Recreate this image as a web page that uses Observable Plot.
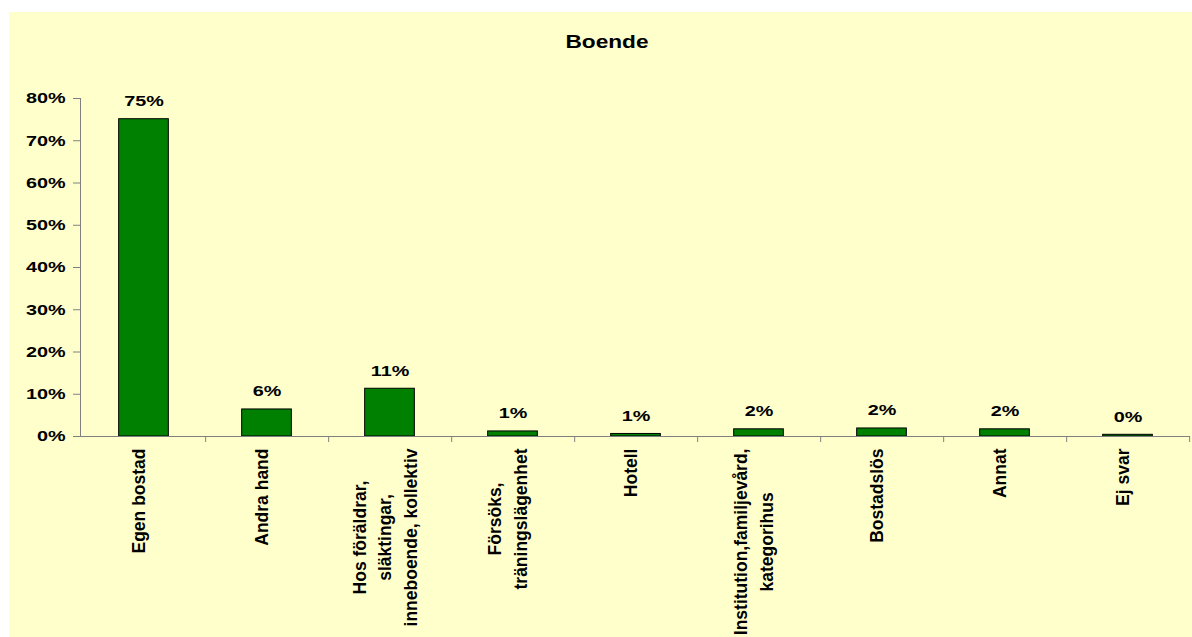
<!DOCTYPE html>
<html>
<head>
<meta charset="utf-8">
<script src="https://cdn.jsdelivr.net/npm/d3@7"></script>
<script src="https://cdn.jsdelivr.net/npm/@observablehq/plot@0.6"></script>
<style>
  html, body { margin: 0; padding: 0; background: #ffffff; }
  #bg { position: absolute; left: 9px; top: 12px; width: 1183px; height: 625px; background: #FFFFCC; }
  #title { position: absolute; left: 0; top: 33px; width: 1214px; text-align: center;
           font: bold 18px "Liberation Sans", Arial, sans-serif; line-height: 18px; color: #000;
           transform: scaleX(1.26); transform-origin: 607px 0; }
  #chart { position: absolute; left: 0; top: 0; }
</style>
</head>
<body>
<div id="bg"></div>
<div id="chart"></div>
<div id="title">Boende</div>
<script>
const title = "Boende";
const categories = [
  "Egen bostad",
  "Andra hand",
  "Hos föräldrar,\nsläktingar,\ninneboende, kollektiv",
  "Försöks,\nträningslägenhet",
  "Hotell",
  "Institution,familjevård,\nkategorihus",
  "Bostadslös",
  "Annat",
  "Ej svar"
];
const values = [75.1, 6.4, 11.3, 1.2, 0.6, 1.7, 1.9, 1.7, 0.4];
const yTicks = [0, 10, 20, 30, 40, 50, 60, 70, 80];

const data = categories.map((c, i) => ({category: c, value: values[i]}));

const W = 1192, H = 637;
const mL = 80, mR = 2, mT = 98, mB = 201;
const bw = (W - mL - mR) / categories.length;
const barW = 50;
const inset = (bw - barW) / 2;
const STRETCH = 1.32;
const FONT = "Liberation Sans, Arial, sans-serif";

const plot = Plot.plot({
  width: W,
  height: H,
  marginLeft: mL,
  marginRight: mR,
  marginTop: mT,
  marginBottom: mB,
  style: {background: "transparent", overflow: "visible"},
  x: {domain: categories, padding: 0, label: null},
  y: {domain: [0, 80], label: null},
  marks: [
    Plot.barY(data, {x: "category", y: "value", fill: "#008000", stroke: "#000", strokeWidth: 1,
      insetLeft: inset, insetRight: inset}),
    Plot.ruleY([0], {stroke: "#808080", strokeWidth: 1}),
    Plot.frame({anchor: "left", stroke: "#808080", strokeWidth: 1}),
    Plot.ruleX(categories, {x: d => d, y1: 0, y2: 0, dx: bw / 2, insetBottom: -6, stroke: "#808080", strokeWidth: 1}),
    Plot.axisY({ticks: yTicks, tickFormat: d => d + "%", tickSize: 7, tickPadding: 8,
      stroke: "#808080", fill: "#000", fontSize: 15, fontWeight: "bold", fontFamily: FONT}),
    Plot.axisX({tickSize: 0, tickPadding: 12, tickRotate: -90, textAnchor: "end", lineAnchor: "middle",
      lineHeight: 1.46, dx: -7, fill: "#000", fontSize: 17.5, fontWeight: "bold", fontFamily: FONT,
      tickFormat: d => d}),
    Plot.text(data, {x: "category", y: "value", text: d => Math.round(d.value) + "%", dy: -13,
      lineAnchor: "bottom", fill: "#000", fontSize: 15, fontWeight: "bold", fontFamily: FONT})
  ]
});

document.getElementById("chart").appendChild(plot);

// center multi-line rotated labels on their longest line (as in the original)
plot.querySelectorAll('g[aria-label="x-axis tick label"] text').forEach(t => {
  const spans = t.querySelectorAll("tspan");
  if (spans.length > 1) {
    let maxL = 0;
    spans.forEach(s => { maxL = Math.max(maxL, s.getComputedTextLength()); });
    t.setAttribute("text-anchor", "middle");
    spans.forEach(s => s.setAttribute("x", -maxL / 2));
  }
});
// horizontal texts in the original are drawn horizontally stretched
plot.querySelectorAll('g[aria-label="y-axis tick label"] text, g[aria-label="text"] text').forEach(t => {
  t.setAttribute("transform", (t.getAttribute("transform") || "") + ` scale(${STRETCH},1)`);
});
</script>
</body>
</html>
